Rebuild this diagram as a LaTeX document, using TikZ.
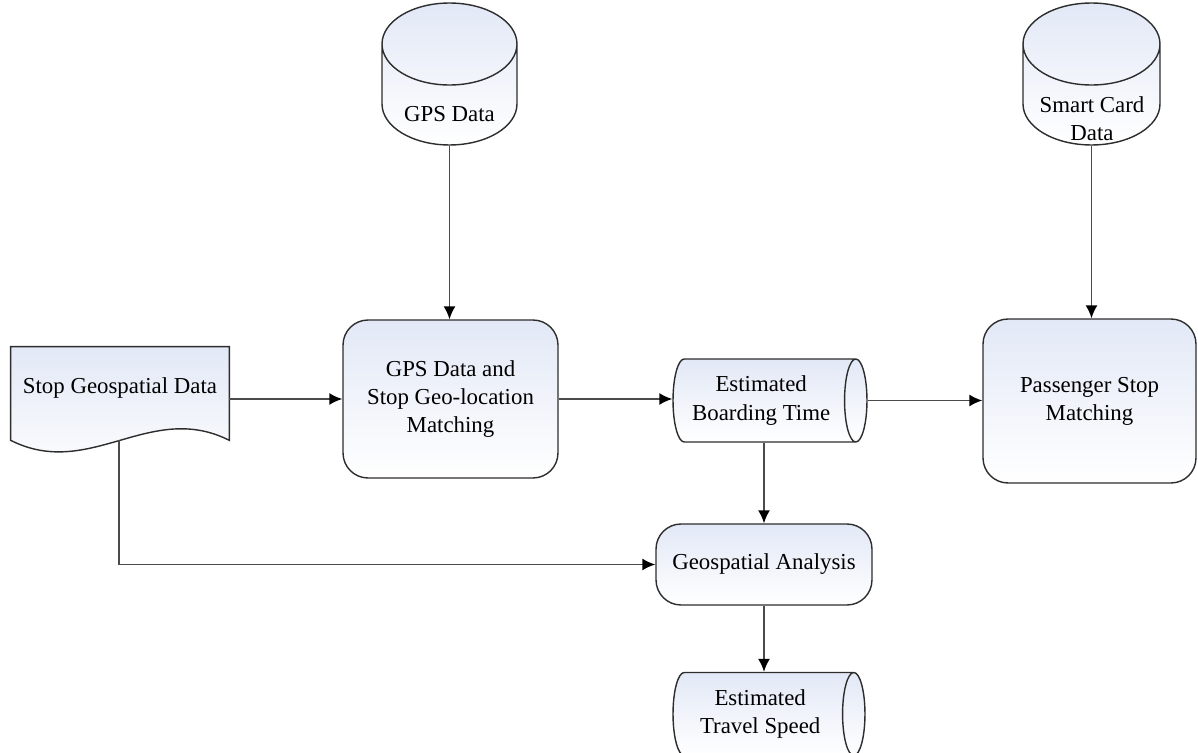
\documentclass[tikz,border=0pt]{standalone}
\usepackage{fontspec}
\setmainfont{Liberation Serif}
\usetikzlibrary{positioning,backgrounds,calc,shapes.geometric,arrows.meta}
\definecolor{shadeblue}{RGB}{226,232,246}
\definecolor{edge}{RGB}{45,45,45}
\definecolor{wire}{RGB}{75,75,75}

\begin{document}
\begin{tikzpicture}[x=0.02cm,y=-0.02cm]
  \tikzstyle{boxfill} = [top color=shadeblue, bottom color=white]
  \tikzstyle{txt} = [align=center, font=\fontsize{13}{16}\selectfont]
  \tikzstyle{proc} = [txt, rectangle, rounded corners=0.5cm, draw=edge,
  line width=0.8pt, boxfill]
  \tikzstyle{db} = [cylinder, shape border rotate=90, aspect=7,
  anchor=shape center, draw=edge, line width=0.8pt, boxfill]
  \tikzstyle{store} = [txt, cylinder, aspect=0.37, anchor=shape center,
  draw=edge, line width=0.8pt, boxfill]
  \tikzstyle{conn} = [draw=wire, line width=0.9pt,
  >={Latex[length=2.6mm,width=2.4mm,color=black]}, ->]
  \useasboundingbox (0,0) rectangle (1198,753);
  % data sources
  \node[db, minimum width=2.7cm, minimum height=2.84cm] (gps) at (449.5,74) {};
  \node[txt] (gpst) at (449.5,114) {GPS Data};
  \node[db, minimum width=2.74cm, minimum height=2.84cm] (sc) at (1091.5,74) {};
  \node[txt] (sct) at (1092,119) {Smart Card\\Data};
  % processes
  \node[proc, minimum width=4.3cm, minimum height=3.16cm] (gm) at (450.5,399)
  {GPS Data and\\Stop Geo-location\\Matching};
  \node[proc, minimum width=4.26cm, minimum height=3.28cm] (ps) at (1089.5,401)
  {Passenger Stop\\Matching};
  \node[store, minimum width=1.66cm, minimum height=3.88cm] (bt) at (770,400.5)
  {Estimated\\Boarding Time};
  \node[proc, minimum width=4.32cm, minimum height=1.62cm] (ga) at (764,564.5)
  {Geospatial Analysis};
  \node[store, minimum width=1.66cm, minimum height=3.84cm] (ts) at (769,714)
  {Estimated\\Travel Speed};
  % document
  \node[txt, minimum width=4.36cm, minimum height=1.64cm] (sg) at (120,388)
  {Stop Geospatial Data};
  \begin{pgfonlayer}{background}
    \path[draw=edge, line width=0.8pt, boxfill] (sg.north west) -- (sg.north east)
    -- ($(sg.south east)+(0,11)$) .. controls ($(sg.south)+(30,-29)$) and
    ($(sg.south)+(-30,51)$) .. ($(sg.south west)+(0,11)$) -- cycle;
  \end{pgfonlayer}
  \coordinate (sgb) at ($(sg.south)+(-1,11)$);
  % connectors
  \draw[conn] (gps.south) -- (gps.south |- gm.north);
  \draw[conn] (sc.south) -- (sc.south |- ps.north);
  \draw[conn] (sg.east |- gm.west) -- (gm.west);
  \draw[conn] (gm.east) -- (gm.east -| bt.west);
  \draw[conn] (bt.east) -- (bt.east -| ps.west);
  \draw[conn] (bt.south -| ga.north) -- (ga.north);
  \draw[conn] (ga.south) -- (ga.south |- ts.north);
  \draw[conn] (sgb) |- (ga.west);
\end{tikzpicture}
\end{document}
